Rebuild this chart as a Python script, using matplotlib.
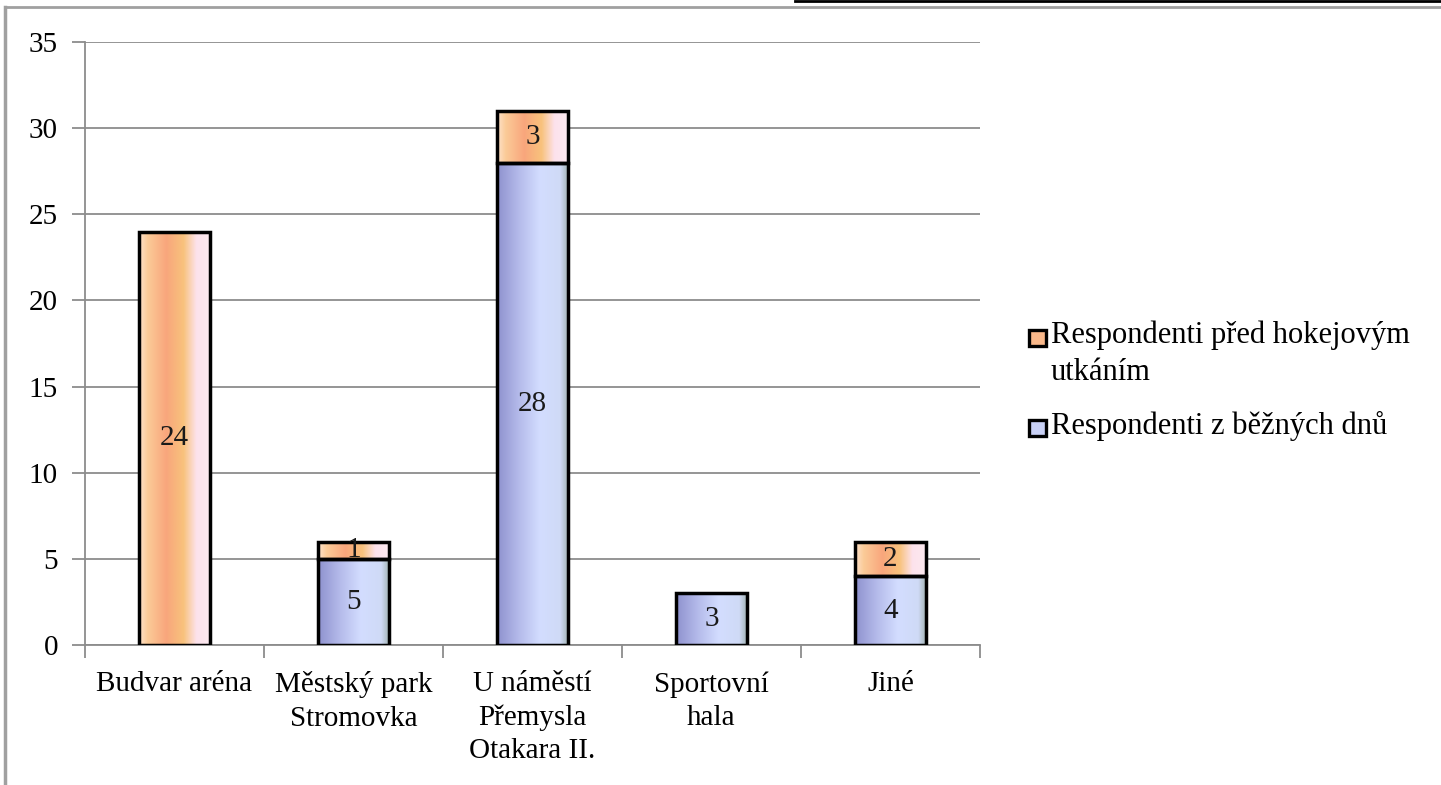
import numpy as np
import matplotlib
matplotlib.use("Agg")
import matplotlib.pyplot as plt
from matplotlib.colors import LinearSegmentedColormap
from matplotlib.patches import Rectangle
from matplotlib.lines import Line2D

categories = ["Budvar aréna", "Městský park\nStromovka", "U náměstí\nPřemysla\nOtakara II.",
              "Sportovní\nhala", "Jiné"]
bezne = [0, 5, 28, 3, 4]          # Respondenti z běžných dnů
hokej = [24, 1, 3, 0, 2]          # Respondenti před hokejovým utkáním
series_names = ["Respondenti před hokejovým\nutkáním", "Respondenti z běžných dnů"]
yticks = [0, 5, 10, 15, 20, 25, 30, 35]

plt.rcParams['font.family'] = ['Liberation Serif', 'DejaVu Serif']

FS = 21
W, H = 1441, 785
fig = plt.figure(figsize=(W/100, H/100), dpi=100)
ax = fig.add_axes([85/W, 1-645/H, (980-85)/W, (645-42)/H])

orange_cmap = LinearSegmentedColormap.from_list("or", [
    (0.0, "#FEE2CC"), (0.12, "#FBCB98"), (0.38, "#F9A67C"), (0.62, "#F8C27C"),
    (0.8, "#FDE2EC"), (1.0, "#FCEAF0")])
blue_cmap = LinearSegmentedColormap.from_list("bl", [
    (0.0, "#8E91CE"), (0.3, "#B4BAEA"), (0.6, "#D3DDFF"), (0.88, "#CFDAF6"), (1.0, "#9FB0AE")])

x = np.arange(len(categories))
w = 0.40
grad = np.linspace(0, 1, 256).reshape(1, -1)

def draw(vals, bottom, cmap, labels=True):
    bars = ax.bar(x, vals, w, bottom=bottom, facecolor="none", edgecolor="black",
                  linewidth=2.5, zorder=4)
    for b, v in zip(bars, vals):
        if v <= 0:
            b.set_visible(False)
            continue
        x0, y0 = b.get_x(), b.get_y()
        im = ax.imshow(grad, cmap=cmap, aspect="auto",
                       extent=[x0, x0 + b.get_width(), y0, y0 + b.get_height()],
                       zorder=3, interpolation="bilinear")
        im.set_clip_path(b)
        if labels:
            ax.text(x0 + b.get_width()/2, y0 + b.get_height()/2, str(v), ha="center",
                    va="center", fontsize=FS, color="#1a1a1a", zorder=5)
    return bars

draw(bezne, 0, blue_cmap)
draw(hokej, bezne, orange_cmap)

ax.set_xlim(-0.5, len(categories) - 0.5)
ax.set_ylim(0, 35)
ax.set_yticks(yticks)
ax.set_yticklabels([str(t) for t in yticks], fontsize=FS)
ax.set_xticks(np.arange(len(categories) + 1) - 0.5, minor=False)
ax.set_xticklabels([])
ax.set_xticks(x, minor=True)
ax.set_xticklabels(categories, minor=True, fontsize=FS, linespacing=1.36)
ax.tick_params(axis="x", which="minor", length=0, pad=19)
ax.tick_params(axis="x", which="major", length=9, color="#8c8c8c", width=1.3)
ax.tick_params(axis="y", length=9.5, color="#8c8c8c", width=1.3, pad=10)
ax.yaxis.grid(True, color="#8c8c8c", linewidth=1.3, zorder=0)
ax.set_axisbelow(True)
for s in ["top", "right"]:
    ax.spines[s].set_visible(False)
for s in ["left", "bottom"]:
    ax.spines[s].set_color("#8c8c8c")
    ax.spines[s].set_linewidth(1.3)

# legend (first line of each entry aligned with its marker)
leg_colors = ["#F9B88A", "#C8D0F5"]
leg_y = [338, 428]
for name, col, yy in zip(series_names, leg_colors, leg_y):
    fig.add_artist(Rectangle((1029/W, 1-(yy+8)/H), 17/W, 16/H, transform=fig.transFigure,
                             facecolor=col, edgecolor="black", linewidth=2.4))
    fig.text(1051/W, 1-(yy-17)/H, name, fontsize=22, va="top", ha="left", linespacing=1.35)

# outer frame lines
fig.add_artist(Line2D([5/W, 5/W], [0, 1-7/H], color="#a0a0a0", linewidth=2.5))
fig.add_artist(Line2D([5/W, 1], [1-7/H, 1-7/H], color="#a0a0a0", linewidth=2))
fig.add_artist(Line2D([795/W, 1], [1-1/H, 1-1/H], color="black", linewidth=2))

fig.savefig("out.png", dpi=100)
